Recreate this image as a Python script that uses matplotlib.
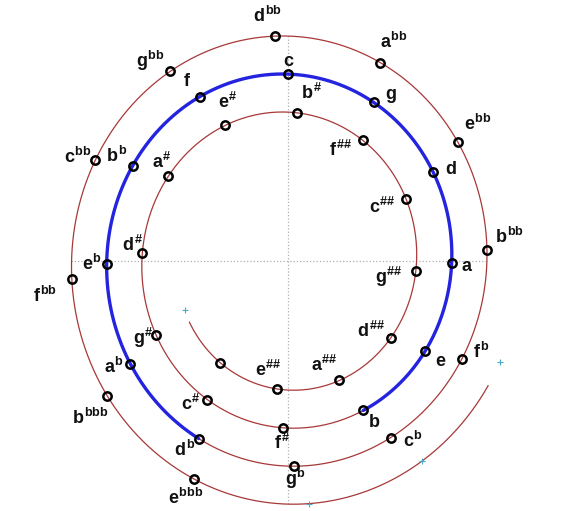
import numpy as np
import matplotlib.pyplot as plt

plt.rcParams['mathtext.fontset'] = 'custom'
plt.rcParams['mathtext.rm'] = 'Liberation Sans:bold'
plt.rcParams['mathtext.it'] = 'Liberation Sans:bold'
plt.rcParams['mathtext.bf'] = 'Liberation Sans:bold'

# note names along the spiral, one per fifth (clockwise = up a fifth)
notes = ['e^{bbb}', 'b^{bbb}', 'f^{bb}', 'c^{bb}', 'g^{bb}', 'd^{bb}', 'a^{bb}', 'e^{bb}', 'b^{bb}',
         'f^{b}', 'c^{b}', 'g^{b}', 'd^{b}', 'a^{b}', 'e^{b}', 'b^{b}',
         'f', 'c', 'g', 'd', 'a', 'e', 'b',
         'f^{\\#}', 'c^{\\#}', 'g^{\\#}', 'd^{\\#}', 'a^{\\#}', 'e^{\\#}',
         'b^{\\#}', 'f^{\\#\\#}', 'c^{\\#\\#}', 'g^{\\#\\#}', 'd^{\\#\\#}', 'a^{\\#\\#}', 'e^{\\#\\#}',
         '']
fifths = list(range(-17, 20))          # fifths away from c
ticks = [-20, -19, -18, 20]            # small + marks past the named notes
diatonic = (-5, 5)                     # blue part: d^b .. b
spiral_span = (-19.8, 19.8)

# spiral geometry
r0 = 186.5        # radius at c
dr = 3.2          # radius lost per fifth
step = 30.3       # degrees per fifth

# label offsets in pixels (x right, y up)
offsets = [(-9, -19), (-17, -22), (-27, -17), (-18, 3), (-20, 10), (-7, 20), (14, 21), (20, 18), (23, 14),
           (19, 7), (22, -3), (1, -13), (-14, -11), (-16, -3), (-15, 0), (-16, 10),
           (-13, 16), (1, 13), (17, 6), (18, 3), (15, -3), (15, -10), (11, -12),
           (-1, -15), (-17, -4), (-13, -3), (-10, 8), (-6, 15), (3, 23),
           (15, 20), (-22, -10), (-24, -8), (-27, -5), (-20, 7), (-15, 15), (-8, 19),
           (0, 0)]


def pos(n):
    n = np.asarray(n, dtype=float)
    r = r0 - dr * n
    t = np.radians(step * n)
    return r * np.sin(t), r * np.cos(t)


fig = plt.figure(figsize=(5.61, 5.11), dpi=100)
ax = fig.add_axes([0, 0, 1, 1])
ax.set_xlim(-311.4, 295.1)
ax.set_ylim(-250.4, 260.6)
ax.axis('off')

s = np.linspace(spiral_span[0], spiral_span[1], 2000)
sx, sy = pos(s)
ax.plot([sx.min(), sx.max()], [0, 0], ':', color='#b0b0b0', lw=0.9, zorder=1)
ax.plot([0, 0], [sy.min(), sy.max()], ':', color='#b0b0b0', lw=0.9, zorder=1)

ax.plot(sx, sy, color='#a83838', lw=0.9, zorder=2)

b = np.linspace(diatonic[0], diatonic[1], 500)
bx, by = pos(b)
ax.plot(bx, by, color='#2323e0', lw=2.4, solid_capstyle='round', zorder=3)

tx, ty = pos(ticks)
ax.plot(tx, ty, '+', color='#4aa8c8', ms=4, mew=0.8, zorder=2)

px, py = pos(fifths)
ax.plot(px, py, 'o', mfc='none', mec='black', ms=6, mew=1.8, zorder=4)

for name, x, y, off in zip(notes, px, py, offsets):
    if name == '':
        continue
    ax.annotate('$' + name + '$', (x, y), xytext=off, textcoords='offset pixels',
                ha='center', va='center', fontsize=13, color='#111111', zorder=5)

fig.savefig('out.png', dpi=100)
